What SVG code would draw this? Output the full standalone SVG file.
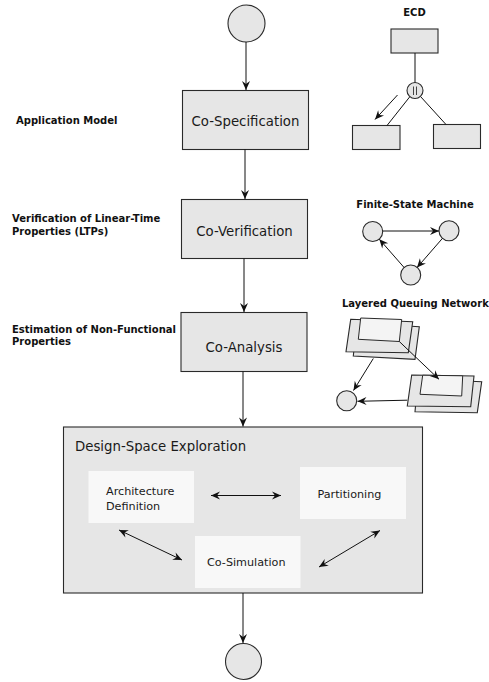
<svg xmlns="http://www.w3.org/2000/svg" width="489" height="682" viewBox="0 0 489 682">
<style>
.bg{fill:#ffffff}
.node{fill:#e6e6e6;stroke:#2a2a2a;stroke-width:1.1}
.inner{fill:#f8f8f8;stroke:none}
.light{fill:#f4f4f4;stroke:#2a2a2a;stroke-width:1}
.edge{fill:none;stroke:#111;stroke-width:1}
.bar{fill:none;stroke:#444;stroke-width:1}
.arr{marker-end:url(#ah)}
.darr{marker-end:url(#ah);marker-start:url(#ahs)}
.main{font-family:"DejaVu Sans",sans-serif;font-size:13.3px;fill:#1a1a1a}
.sub{font-family:"DejaVu Sans",sans-serif;font-size:11.2px;fill:#1a1a1a}
.lbl{font-family:"DejaVu Sans",sans-serif;font-size:10px;font-weight:bold;fill:#111}
</style>
<defs>
<marker id="ah" markerUnits="userSpaceOnUse" markerWidth="12" markerHeight="10" viewBox="-10 -5 12 10" refX="0" refY="0" orient="auto">
<path d="M0,0 L-9,-4 L-6,0 L-9,4 Z" fill="#111"/>
</marker>
<marker id="ahs" markerUnits="userSpaceOnUse" markerWidth="12" markerHeight="10" viewBox="-10 -5 12 10" refX="0" refY="0" orient="auto-start-reverse">
<path d="M0,0 L-9,-4 L-6,0 L-9,4 Z" fill="#111"/>
</marker>
</defs>
<rect class="bg" x="0" y="0" width="489" height="682"/>

<g id="labels">
<text class="lbl" x="16" y="124">Application Model</text>
<text class="lbl" x="12" y="222">Verification of Linear-Time</text>
<text class="lbl" x="12" y="234.5">Properties (LTPs)</text>
<text class="lbl" x="12" y="333">Estimation of Non-Functional</text>
<text class="lbl" x="12" y="345">Properties</text>
</g>

<g id="start">
<circle class="node" cx="246.5" cy="23.5" r="18.5"/>
</g>
<g id="co-specification">
<rect class="node" x="182.5" y="90.5" width="126" height="59"/>
<text class="main" x="245.5" y="126" text-anchor="middle">Co-Specification</text>
</g>
<g id="co-verification">
<rect class="node" x="181.5" y="199.5" width="126" height="59"/>
<text class="main" x="244.5" y="235.5" text-anchor="middle">Co-Verification</text>
</g>
<g id="co-analysis">
<rect class="node" x="181" y="312.5" width="126" height="59"/>
<text class="main" x="244" y="351.5" text-anchor="middle">Co-Analysis</text>
</g>
<g id="dse">
<rect class="node" x="63.5" y="427" width="359" height="166"/>
<text class="main" x="75" y="451">Design-Space Exploration</text>
</g>
<g id="architecture-definition">
<rect class="inner" x="88.5" y="471" width="105.5" height="52"/>
<text class="sub" x="106" y="494.5">Architecture</text>
<text class="sub" x="106" y="510">Definition</text>
</g>
<g id="partitioning">
<rect class="inner" x="300" y="467" width="106" height="52"/>
<text class="sub" x="317.5" y="497.5">Partitioning</text>
</g>
<g id="co-simulation">
<rect class="inner" x="195" y="536" width="105.5" height="52"/>
<text class="sub" x="207" y="566">Co-Simulation</text>
</g>
<g id="end">
<circle class="node" cx="243.5" cy="661.5" r="18"/>
</g>

<g id="connectors">
<line class="edge arr" x1="246" y1="42" x2="246" y2="90"/>
<line class="edge arr" x1="245" y1="149.5" x2="245" y2="199"/>
<line class="edge arr" x1="244" y1="258.5" x2="244" y2="312"/>
<line class="edge arr" x1="243" y1="371.5" x2="243" y2="426.5"/>
<line class="edge arr" x1="243" y1="593" x2="243" y2="643"/>
<line class="edge darr" x1="211" y1="495.5" x2="281" y2="495.5"/>
<line class="edge darr" x1="119" y1="530" x2="182" y2="560"/>
<line class="edge darr" x1="380" y1="530.5" x2="319" y2="567"/>
</g>

<g id="ecd">
<text class="lbl" x="414.5" y="16" text-anchor="middle">ECD</text>
<rect class="node" x="391" y="29" width="47" height="24"/>
<rect class="node" x="352.5" y="125.5" width="47.5" height="24"/>
<rect class="node" x="433.5" y="124.5" width="47" height="24"/>
<line class="edge" x1="415" y1="53" x2="415" y2="82.5"/>
<line class="edge" x1="410" y1="96.5" x2="387" y2="125.5"/>
<line class="edge" x1="420.5" y1="96.5" x2="446" y2="124.5"/>
<circle class="node" cx="415" cy="90.5" r="8"/>
<line class="bar" x1="413.5" y1="86.5" x2="413.5" y2="95"/>
<line class="bar" x1="416.5" y1="86.5" x2="416.5" y2="95"/>
<line class="edge arr" x1="397.5" y1="95" x2="375" y2="119.5"/>
</g>

<g id="fsm">
<text class="lbl" x="415" y="208.3" text-anchor="middle">Finite-State Machine</text>
<circle class="node" cx="372.7" cy="231.5" r="10"/>
<circle class="node" cx="449" cy="230.7" r="10"/>
<circle class="node" cx="410.7" cy="275" r="10"/>
<line class="edge arr" x1="382.7" y1="231" x2="439" y2="231"/>
<line class="edge arr" x1="442.5" y1="238.3" x2="417" y2="267.6"/>
<line class="edge arr" x1="404.1" y1="267.5" x2="379.3" y2="239.2"/>
</g>

<g id="lqn">
<text class="lbl" x="342" y="307.3">Layered Queuing Network</text>
<polygon class="node" points="357,323 419.3,326.7 415,359.3 353.3,356"/>
<polygon class="node" points="350.7,319.3 412.7,321.8 408.3,352.7 346,351.7"/>
<polygon class="light" points="360.7,318 401.7,319.5 399.3,341.5 358.3,339.3"/>
<polygon class="node" points="418,379 481.7,381.7 477.3,412.7 415,411.7"/>
<polygon class="node" points="411.7,375 474,376 470.7,406.7 407.3,406"/>
<polygon class="light" points="422.7,375.2 462.7,375.8 461.7,396 420,394.3"/>
<circle class="node" cx="346.7" cy="400.7" r="10"/>
<line class="edge arr" x1="399.3" y1="341.5" x2="439" y2="379.3"/>
<line class="edge arr" x1="373.3" y1="358.5" x2="353.5" y2="390.5"/>
<line class="edge arr" x1="407.3" y1="400.2" x2="357.5" y2="401.3"/>
</g>
</svg>
